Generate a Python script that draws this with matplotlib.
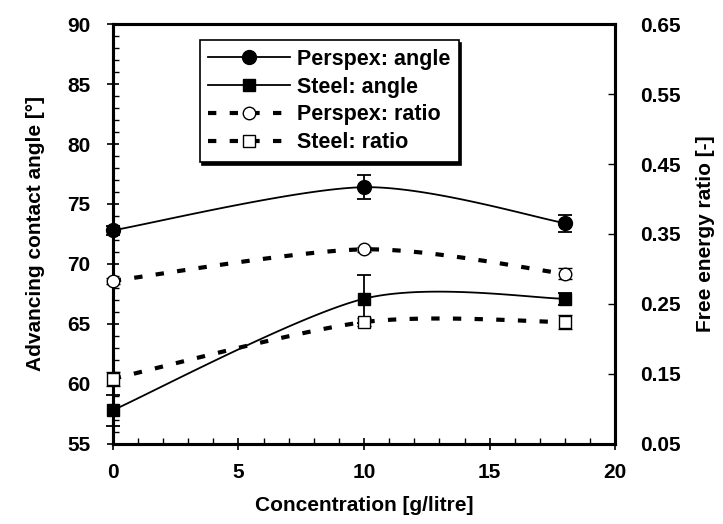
import numpy as np
import matplotlib
matplotlib.use("Agg")
import matplotlib.pyplot as plt
from matplotlib.ticker import MultipleLocator
from matplotlib.lines import Line2D

plt.rcParams['font.family'] = ['Liberation Sans', 'DejaVu Sans']
plt.rcParams['font.weight'] = 'bold'

conc = [0, 10, 18]
perspex_angle = [72.8, 76.4, 73.4]
perspex_angle_err = [0.4, 1.0, 0.7]
steel_angle = [57.8, 67.1, 67.1]
steel_angle_err = [1.3, 2.0, 0.5]
perspex_ratio = [0.283, 0.328, 0.293]
perspex_ratio_err = [0.004, 0.004, 0.008]
steel_ratio = [0.143, 0.224, 0.224]
steel_ratio_err = [0.010, 0.006, 0.010]


def smooth(xs, ys, n=40, k=7.0):
    xs = np.asarray(xs, float); ys = np.asarray(ys, float)
    P = np.column_stack([xs, ys])
    out = []
    for i in range(len(P) - 1):
        p0 = P[i - 1] if i > 0 else P[i]
        p1 = P[i]; p2 = P[i + 1]
        p3 = P[i + 2] if i + 2 < len(P) else P[i + 1]
        c1 = p1 + (p2 - p0) / k
        c2 = p2 - (p3 - p1) / k
        t = np.linspace(0, 1, n)[:, None]
        seg = (1 - t) ** 3 * p1 + 3 * (1 - t) ** 2 * t * c1 + 3 * (1 - t) * t ** 2 * c2 + t ** 3 * p2
        out.append(seg if i == 0 else seg[1:])
    s = np.vstack(out)
    return s[:, 0], s[:, 1]


fig = plt.figure(figsize=(7.23, 5.24), dpi=100)
ax = fig.add_axes([0.156, 0.153, 0.695, 0.801])
ax2 = ax.twinx()

ax.set_xlim(0, 20)
ax.set_ylim(55, 90)
ax2.set_ylim(0.05, 0.65)

DASH = (0, (2.0, 3.2))

for ys, err, mk in [(perspex_angle, perspex_angle_err, 'o'), (steel_angle, steel_angle_err, 's')]:
    sx, sy = smooth(conc, ys)
    ax.plot(sx, sy, color='black', lw=1.3, zorder=3, clip_on=False)
    ax.errorbar(conc, ys, yerr=err, fmt=mk, color='black', ms=10 if mk == 'o' else 9,
                ecolor='black', elinewidth=1.3, capsize=5, capthick=1.3, zorder=4, clip_on=False)

for ys, err, mk in [(perspex_ratio, perspex_ratio_err, 'o'), (steel_ratio, steel_ratio_err, 's')]:
    sx, sy = smooth(conc, ys)
    ax2.plot(sx, sy, color='black', lw=3.0, linestyle=DASH, zorder=3, clip_on=False)
    ax2.errorbar(conc, ys, yerr=err, fmt=mk, color='black', mfc='white', ms=9 if mk == 'o' else 8,
                 mew=1.0, ecolor='black', elinewidth=1.0, capsize=5, capthick=1.0, zorder=4, clip_on=False)

for sp in ax.spines.values():
    sp.set_linewidth(2.2)
for sp in ax2.spines.values():
    sp.set_linewidth(2.2)

ax.xaxis.set_major_locator(MultipleLocator(5))
ax.xaxis.set_minor_locator(MultipleLocator(1))
ax.yaxis.set_major_locator(MultipleLocator(5))
ax.yaxis.set_minor_locator(MultipleLocator(1))
ax2.set_yticks([0.05, 0.15, 0.25, 0.35, 0.45, 0.55, 0.65])
ax2.set_yticklabels(['0.05', '0.15', '0.25', '0.35', '0.45', '0.55', '0.65'])

ax.tick_params(axis='both', which='major', direction='inout', length=8, width=1.2, labelsize=15)
ax.tick_params(axis='y', which='major', pad=12)
ax.tick_params(axis='x', which='major', pad=10)
ax.tick_params(axis='both', which='minor', direction='in', length=4, width=1.0)
ax2.tick_params(axis='y', which='major', direction='in', length=5, width=1.0, labelsize=15, pad=18)

for lab in ax.get_xticklabels() + ax.get_yticklabels() + ax2.get_yticklabels():
    lab.set_fontweight('bold')

ax.set_xlabel('Concentration [g/litre]', fontsize=15, fontweight='bold', labelpad=10)
ax.set_ylabel('Advancing contact angle [°]', fontsize=15, fontweight='bold', labelpad=16)
ax2.set_ylabel('Free energy ratio [-]', fontsize=15, fontweight='bold', labelpad=11)

handles = [
    Line2D([], [], color='black', lw=1.3, marker='o', ms=10),
    Line2D([], [], color='black', lw=1.3, marker='s', ms=9),
    Line2D([], [], color='black', lw=3.0, linestyle=DASH, marker='o', ms=9, mfc='white', mew=1.0),
    Line2D([], [], color='black', lw=3.0, linestyle=DASH, marker='s', ms=8, mfc='white', mew=1.0),
]
labels = ['Perspex: angle', 'Steel: angle', 'Perspex: ratio', 'Steel: ratio']
leg = ax2.legend(handles, labels, loc='upper left', bbox_to_anchor=(0.173, 0.962),
                 frameon=True, fancybox=False, shadow={'color': 'black', 'alpha': 1.0},
                 handlelength=3.8, prop={'size': 15.5, 'weight': 'bold'}, borderpad=0.4,
                 labelspacing=0.32, handletextpad=0.3, borderaxespad=0)
leg.get_frame().set_edgecolor('black')
leg.get_frame().set_linewidth(1.2)

fig.savefig('out.png', dpi=100)
